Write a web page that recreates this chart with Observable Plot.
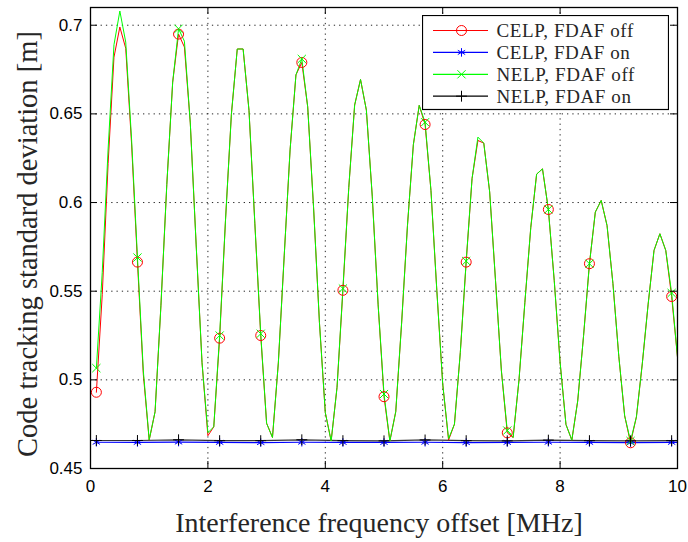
<!DOCTYPE html>
<html><head><meta charset="utf-8">
<script src="https://cdn.jsdelivr.net/npm/d3@7"></script>
<script src="https://cdn.jsdelivr.net/npm/@observablehq/plot@0.6"></script>
<style>
body{margin:0;background:#fff;}
#wrap{position:relative;width:688px;height:542px;overflow:hidden;}
#wrap svg{display:block;}
</style></head><body><div id="wrap"></div>
<script>
// Interference frequency offset grid [MHz] for the FDAF-off curves (0.1 .. 10, step 0.1)
const freq = d3.range(1, 101).map(i => i / 10);

// CELP, FDAF off
const celpOff = [
0.4930,0.5480,0.6220,0.6820,0.6990,0.6870,0.6330,0.5664,0.5030,0.4660,
0.4820,0.5421,0.6101,0.6679,0.6950,0.6877,0.6449,0.5761,0.5097,0.4685,
0.4735,0.5235,0.5901,0.6497,0.6866,0.6866,0.6520,0.5880,0.5250,0.4755,
0.4675,0.5095,0.5699,0.6297,0.6720,0.6790,0.6540,0.5974,0.5324,0.4815,
0.4655,0.4958,0.5505,0.6084,0.6550,0.6694,0.6521,0.6036,0.5423,0.4905,
0.4655,0.4820,0.5320,0.5871,0.6326,0.6548,0.6440,0.6068,0.5503,0.4978,
0.4660,0.4750,0.5154,0.5664,0.6135,0.6350,0.6335,0.6060,0.5559,0.5051,
0.4701,0.4675,0.5000,0.5437,0.5858,0.6160,0.6190,0.5961,0.5561,0.5099,
0.4748,0.4660,0.4881,0.5250,0.5655,0.5946,0.6012,0.5870,0.5543,0.5133,
0.4797,0.4645,0.4791,0.5090,0.5427,0.5730,0.5824,0.5730,0.5470,0.5128];

// NELP, FDAF off
const nelpOff = [
0.5066,0.5606,0.6302,0.6890,0.7080,0.6905,0.6355,0.5690,0.5050,0.4662,
0.4820,0.5421,0.6101,0.6679,0.6980,0.6910,0.6449,0.5761,0.5097,0.4702,
0.4735,0.5250,0.5901,0.6497,0.6866,0.6866,0.6520,0.5880,0.5260,0.4755,
0.4675,0.5095,0.5699,0.6297,0.6720,0.6810,0.6540,0.5974,0.5324,0.4815,
0.4655,0.4958,0.5515,0.6084,0.6550,0.6694,0.6521,0.6036,0.5423,0.4920,
0.4655,0.4820,0.5320,0.5871,0.6326,0.6548,0.6453,0.6068,0.5503,0.4978,
0.4668,0.4750,0.5154,0.5670,0.6135,0.6369,0.6335,0.6060,0.5559,0.5051,
0.4714,0.4675,0.5000,0.5437,0.5858,0.6160,0.6190,0.5961,0.5561,0.5099,
0.4748,0.4660,0.4881,0.5250,0.5655,0.5946,0.6012,0.5870,0.5543,0.5133,
0.4797,0.4655,0.4791,0.5090,0.5427,0.5730,0.5824,0.5730,0.5490,0.5128];

// FDAF on curves (nearly flat)
const onFreq = [0.1,0.8,1.5,2.2,2.9,3.6,4.3,5.0,5.7,6.4,7.1,7.8,8.5,9.2,9.9,10.0];
const celpOn = [0.4648,0.4647,0.4649,0.4647,0.4646,0.4648,0.4647,0.4647,0.4648,0.4646,0.4647,0.4648,0.4647,0.4646,0.4647,0.4647];
const nelpOn = [0.4658,0.4658,0.4662,0.4657,0.4657,0.4662,0.4657,0.4656,0.4661,0.4657,0.4656,0.4660,0.4657,0.4656,0.4657,0.4657];

const xTicks = [0, 2, 4, 6, 8, 10];
const yTicks = [0.45, 0.5, 0.55, 0.6, 0.65, 0.7];
const seriesNames = ["CELP, FDAF off", "CELP, FDAF on", "NELP, FDAF off", "NELP, FDAF on"];
const seriesColors = ["#ff0000", "#0000ff", "#00ff00", "#000000"];
const seriesSymbols = ["circle", "asterisk", "times", "plus"];
const xLabel = "Interference frequency offset [MHz]";
const yLabel = "Code tracking standard deviation [m]";

const off = freq.map((x, i) => ({x, celp: celpOff[i], nelp: nelpOff[i], i}));
const offM = off.filter(d => d.i % 7 === 0);
const on = onFreq.map((x, i) => ({x, celp: celpOn[i], nelp: nelpOn[i], i}));
const onM = on.filter(d => d.i < 15);

const W = 688, H = 542, mL = 90, mR = 11, mT = 7, mB = 74;
const fw = W - mL - mR, fh = H - mT - mB, tk = 7;
const grid = {stroke: "#000", strokeDasharray: "1.3,4", strokeOpacity: 0.85, strokeWidth: 1};
const serif = "'Liberation Serif', 'Times New Roman', serif";

const chart = Plot.plot({
  width: W, height: H,
  marginLeft: mL, marginRight: mR, marginTop: mT, marginBottom: mB,
  style: {fontFamily: "'Liberation Sans', Arial, sans-serif", fontSize: "17px", color: "#000", background: "#fff", overflow: "visible"},
  x: {domain: [0, 10]},
  y: {domain: [0.45, 0.71]},
  marks: [
    Plot.ruleX(xTicks.slice(1, -1), {x: d => d, ...grid}),
    Plot.ruleY(yTicks.slice(1), {y: d => d, ...grid}),
    Plot.line(on, {x: "x", y: "celp", stroke: seriesColors[1], strokeWidth: 1.2}),
    Plot.line(on, {x: "x", y: "nelp", stroke: seriesColors[3], strokeWidth: 1.2, strokeOpacity: 0.8}),
    Plot.line(off, {x: "x", y: "celp", stroke: seriesColors[0], strokeWidth: 1}),
    Plot.line(off, {x: "x", y: "nelp", stroke: seriesColors[2], strokeWidth: 1}),
    Plot.dot(offM, {x: "x", y: "celp", symbol: seriesSymbols[0], r: 5, stroke: seriesColors[0], fill: "none", strokeWidth: 1}),
    Plot.dot(onM, {x: "x", y: "celp", symbol: seriesSymbols[1], r: 4, stroke: seriesColors[1], fill: "none", strokeWidth: 1}),
    Plot.dot(offM, {x: "x", y: "nelp", symbol: seriesSymbols[2], r: 3.8, stroke: seriesColors[2], fill: "none", strokeWidth: 1}),
    Plot.dot(onM, {x: "x", y: "nelp", symbol: seriesSymbols[3], r: 3.6, stroke: seriesColors[3], fill: "none", strokeWidth: 1}),
    // inward ticks on all four sides
    Plot.ruleX(xTicks, {x: d => d, insetTop: fh - tk, stroke: "#000"}),
    Plot.ruleX(xTicks, {x: d => d, insetBottom: fh - tk, stroke: "#000"}),
    Plot.ruleY(yTicks, {y: d => d, insetRight: fw - tk, stroke: "#000"}),
    Plot.ruleY(yTicks, {y: d => d, insetLeft: fw - tk, stroke: "#000"}),
    Plot.frame({stroke: "#000", strokeWidth: 1.3}),
    Plot.axisX(xTicks, {tickSize: 0, tickPadding: 11, label: null, tickFormat: d => String(d)}),
    Plot.axisY(yTicks, {tickSize: 0, tickPadding: 8, label: null, tickFormat: d => String(d)}),
    Plot.text([xLabel], {text: d => d, frameAnchor: "bottom", dx: -5, dy: 55, textAnchor: "middle", lineAnchor: "middle", fontFamily: serif, fontSize: 28, fill: "#262626"}),
    Plot.text([yLabel], {text: d => d, frameAnchor: "left", dx: -63, dy: 6, rotate: -90, textAnchor: "middle", lineAnchor: "middle", fontFamily: serif, fontSize: 28.5, fill: "#262626"})
  ]
});
document.getElementById("wrap").appendChild(chart);

// Legend inside the plot (top right)
const lg = d3.select("#wrap").append("svg")
  .attr("width", 247).attr("height", 96)
  .style("position", "absolute").style("left", "421.5px").style("top", "14.5px");
lg.append("rect").attr("x", 0.5).attr("y", 0.5).attr("width", 246).attr("height", 94)
  .attr("fill", "#fff").attr("stroke", "#000").attr("stroke-width", 1.2);
seriesNames.forEach((name, i) => {
  const cy = 15.5 + i * 21.9;
  const g = lg.append("g");
  g.append("line").attr("x1", 11).attr("x2", 66).attr("y1", cy).attr("y2", cy)
    .attr("stroke", seriesColors[i]).attr("stroke-width", 1.2);
  const rr = [5, 4, 3.8, 3.6][i];
  const sym = {circle: d3.symbolCircle, asterisk: d3.symbolAsterisk, times: d3.symbolTimes, plus: d3.symbolPlus}[seriesSymbols[i]];
  g.append("path").attr("d", d3.symbol(sym, Math.PI * rr * rr)())
    .attr("transform", `translate(39.5,${cy})`)
    .attr("fill", "none").attr("stroke", seriesColors[i]).attr("stroke-width", 1);
  g.append("text").attr("x", 74.5).attr("y", cy + 6.5)
    .attr("font-family", serif).attr("font-size", 19).attr("letter-spacing", "0.6px").attr("fill", "#262626")
    .text(name);
});
</script>
</body></html>
